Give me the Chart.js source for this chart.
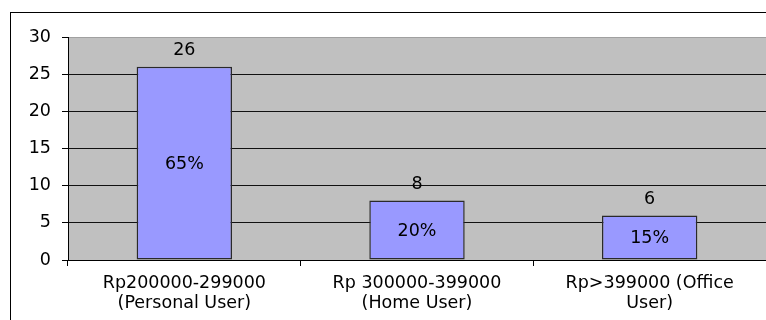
<!DOCTYPE html>
<html>
<head>
<meta charset="utf-8">
<script src="https://cdn.jsdelivr.net/npm/chart.js@4/dist/chart.umd.min.js"></script>
<style>
html,body{margin:0;padding:0;background:#fff;}
#wrap{width:766px;height:320px;position:relative;}
</style>
</head>
<body>
<div id="wrap"><canvas id="chart" width="766" height="320"></canvas></div>
<script>
// price ranges and number of buyers in each
const categories = [
  ["Rp200000-299000", "(Personal User)"],
  ["Rp 300000-399000", "(Home User)"],
  ["Rp>399000 (Office", "User)"]
];
const buyers = [26, 8, 6];
const yTicks = [0, 5, 10, 15, 20, 25, 30];

const total = buyers.reduce((a, b) => a + b, 0);
const shares = buyers.map(v => Math.round(v / total * 100) + "%");

const FONT = "'DejaVu Sans', Verdana, sans-serif";
const FSIZE = 17.5;

// outer frame line + grey plot background
const frame = {
  id: "frame",
  beforeDraw(chart){
    const c = chart.ctx, a = chart.chartArea;
    c.save();
    c.fillStyle = "#c0c0c0";
    c.fillRect(a.left, a.top, a.right - a.left, a.bottom - a.top);
    c.strokeStyle = "#000";
    c.lineWidth = 1;
    c.strokeRect(10.5, 12.5, 900, 400);
    c.restore();
  },
  afterDatasetsDraw(chart){
    const c = chart.ctx, a = chart.chartArea;
    c.save();
    c.strokeStyle = "#000";
    c.lineWidth = 1;
    c.beginPath();
    c.moveTo(a.left + 0.5, a.top);
    c.lineTo(a.left + 0.5, a.bottom + 0.5);
    c.lineTo(a.right, a.bottom + 0.5);
    c.stroke();
    c.restore();
  }
};

// count above each bar, share inside
const barLabels = {
  id: "barLabels",
  afterDatasetsDraw(chart){
    const c = chart.ctx;
    const meta = chart.getDatasetMeta(0);
    c.save();
    c.font = FSIZE + "px " + FONT;
    c.fillStyle = "#000";
    c.textAlign = "center";
    c.textBaseline = "middle";
    meta.data.forEach((bar, i) => {
      c.fillText(String(buyers[i]), bar.x, bar.y - 16);
      c.fillText(shares[i], bar.x, (bar.y + bar.base) / 2 + 1);
    });
    c.restore();
  }
};

new Chart(document.getElementById("chart"), {
  type: "bar",
  data: {
    labels: categories,
    datasets: [{
      data: buyers,
      backgroundColor: "#9999ff",
      borderColor: "#2a2a2a",
      borderWidth: 1.5,
      borderSkipped: false,
      categoryPercentage: 1,
      barPercentage: 0.41
    }]
  },
  options: {
    responsive: false,
    animation: false,
    devicePixelRatio: 1,
    layout: { padding: { left: 10, top: 37, right: -1, bottom: 0 } },
    plugins: { legend: { display: false }, tooltip: { enabled: false } },
    scales: {
      x: {
        border: { display: false },
        grid: { drawOnChartArea: false, drawTicks: true, tickLength: 6, color: "#000", offset: true },
        ticks: { color: "#000", font: { family: FONT, size: FSIZE, lineHeight: 1.12 }, padding: 8, maxRotation: 0, autoSkip: false },
        afterFit(s){ s.height = 60; }
      },
      y: {
        min: 0, max: 30,
        afterBuildTicks(s){ s.ticks = yTicks.map(v => ({ value: v })); },
        border: { display: false },
        grid: {
          color: ctx => ctx.tick && ctx.tick.value === 30 ? "#a0a0a0" : "#111",
          tickColor: "#000",
          tickLength: 6,
          lineWidth: 1
        },
        ticks: { color: "#000", font: { family: FONT, size: FSIZE }, padding: 11 },
        afterFit(s){ s.width = 58; }
      }
    }
  },
  plugins: [frame, barLabels]
});
</script>
</body>
</html>
